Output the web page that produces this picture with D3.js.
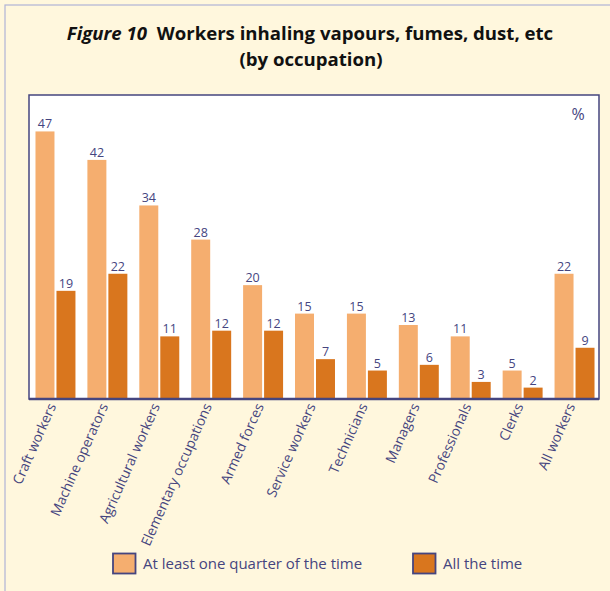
<!DOCTYPE html>
<html>
<head>
<meta charset="utf-8">
<script src="https://cdn.jsdelivr.net/npm/d3@7"></script>
<style>
  html, body { margin: 0; padding: 0; background: #fff7dd; }
  svg { display: block; font-family: "Open Sans", "Noto Sans", sans-serif; }
</style>
</head>
<body>
<svg id="chart"></svg>
<script>
const occupations = ["Craft workers", "Machine operators", "Agricultural workers", "Elementary occupations",
    "Armed forces", "Service workers", "Technicians", "Managers", "Professionals", "Clerks", "All workers"];
const quarterTime = [47, 42, 34, 28, 20, 15, 15, 13, 11, 5, 22];
const allTime = [19, 22, 11, 12, 12, 7, 5, 6, 3, 2, 9];
const seriesNames = ["At least one quarter of the time", "All the time"];

const width = 610, height = 591;
const plot = { left: 29, top: 95, right: 599, bottom: 399 };
const navy = "#45457f";
const colors = ["#f5ae6f", "#d9761e"];

const svg = d3.select("#chart").attr("width", width).attr("height", height);

// background + outer frame
svg.append("rect").attr("width", width).attr("height", height).attr("fill", "#fff7dd");
svg.append("rect")
    .attr("x", 5).attr("y", 5).attr("width", width + 10).attr("height", height + 10)
    .attr("fill", "none").attr("stroke", "#b0b3d6").attr("stroke-width", 1.2);

// title
const title = svg.append("text")
    .attr("x", 310).attr("y", 40)
    .attr("text-anchor", "middle")
    .attr("font-size", 18.6).attr("font-weight", "bold").attr("fill", "#111");
title.append("tspan").attr("font-style", "italic").text("Figure 10");
title.append("tspan").text("\u00a0 Workers inhaling vapours, fumes, dust, etc");
svg.append("text")
    .attr("x", 311).attr("y", 66)
    .attr("text-anchor", "middle")
    .attr("font-size", 18.6).attr("font-weight", "bold").attr("fill", "#111")
    .text("(by occupation)");

// plot area
svg.append("rect")
    .attr("x", plot.left).attr("y", plot.top)
    .attr("width", plot.right - plot.left).attr("height", plot.bottom - plot.top)
    .attr("fill", "#fff").attr("stroke", navy).attr("stroke-width", 1.5);

const data = occupations.map((name, i) => ({ name, values: [quarterTime[i], allTime[i]] }));

const x0 = d3.scaleBand()
    .domain(occupations)
    .range([plot.left, plot.left + 572])
    .paddingInner(0.23)
    .paddingOuter(0.125);

const x1 = d3.scaleBand()
    .domain([0, 1])
    .range([0, x0.bandwidth()])
    .paddingInner(2 / 21);

const y = d3.scaleLinear()
    .domain([0, 53.4])
    .range([plot.bottom, plot.top]);

const groups = svg.selectAll("g.group")
    .data(data)
    .join("g")
    .attr("class", "group")
    .attr("transform", d => `translate(${x0(d.name)},0)`);

groups.selectAll("rect")
    .data(d => d.values)
    .join("rect")
    .attr("x", (d, i) => x1(i))
    .attr("y", d => y(d))
    .attr("width", x1.bandwidth())
    .attr("height", d => y(0) - y(d))
    .attr("fill", (d, i) => colors[i]);

groups.selectAll("text")
    .data(d => d.values)
    .join("text")
    .attr("x", (d, i) => x1(i) + x1.bandwidth() / 2)
    .attr("y", d => y(d) - 3)
    .attr("text-anchor", "middle")
    .attr("font-size", 12.5)
    .attr("fill", navy)
    .text(d => d);

// x axis
const xAxis = svg.append("g")
    .attr("transform", `translate(0,${plot.bottom})`)
    .call(d3.axisBottom(x0).tickSize(0).tickPadding(0));
xAxis.select(".domain").attr("stroke", navy).attr("stroke-width", 2.5)
    .attr("d", `M${plot.left},0H${plot.right}`);
xAxis.selectAll(".tick text")
    .attr("fill", navy)
    .attr("font-size", 13.8)
    .attr("font-family", "\"Open Sans\", sans-serif")
    .attr("text-anchor", "end")
    .attr("dy", 0)
    .attr("transform", "translate(1,7) rotate(-66)");

// % unit
svg.append("text")
    .attr("x", 578).attr("y", 120)
    .attr("text-anchor", "middle")
    .attr("font-size", 16).attr("fill", navy)
    .text("%");

// legend
const legendX = [112, 412];
const legend = svg.selectAll("g.legend")
    .data(seriesNames)
    .join("g")
    .attr("class", "legend")
    .attr("transform", (d, i) => `translate(${legendX[i]},553)`);
legend.append("rect")
    .attr("x", 1).attr("y", 0.5).attr("width", 22.5).attr("height", 20)
    .attr("fill", (d, i) => colors[i])
    .attr("stroke", navy).attr("stroke-width", 1.8);
legend.append("text")
    .attr("x", 31).attr("y", 15.5)
    .attr("font-size", 15).attr("fill", navy)
    .text(d => d);
</script>
</body>
</html>
